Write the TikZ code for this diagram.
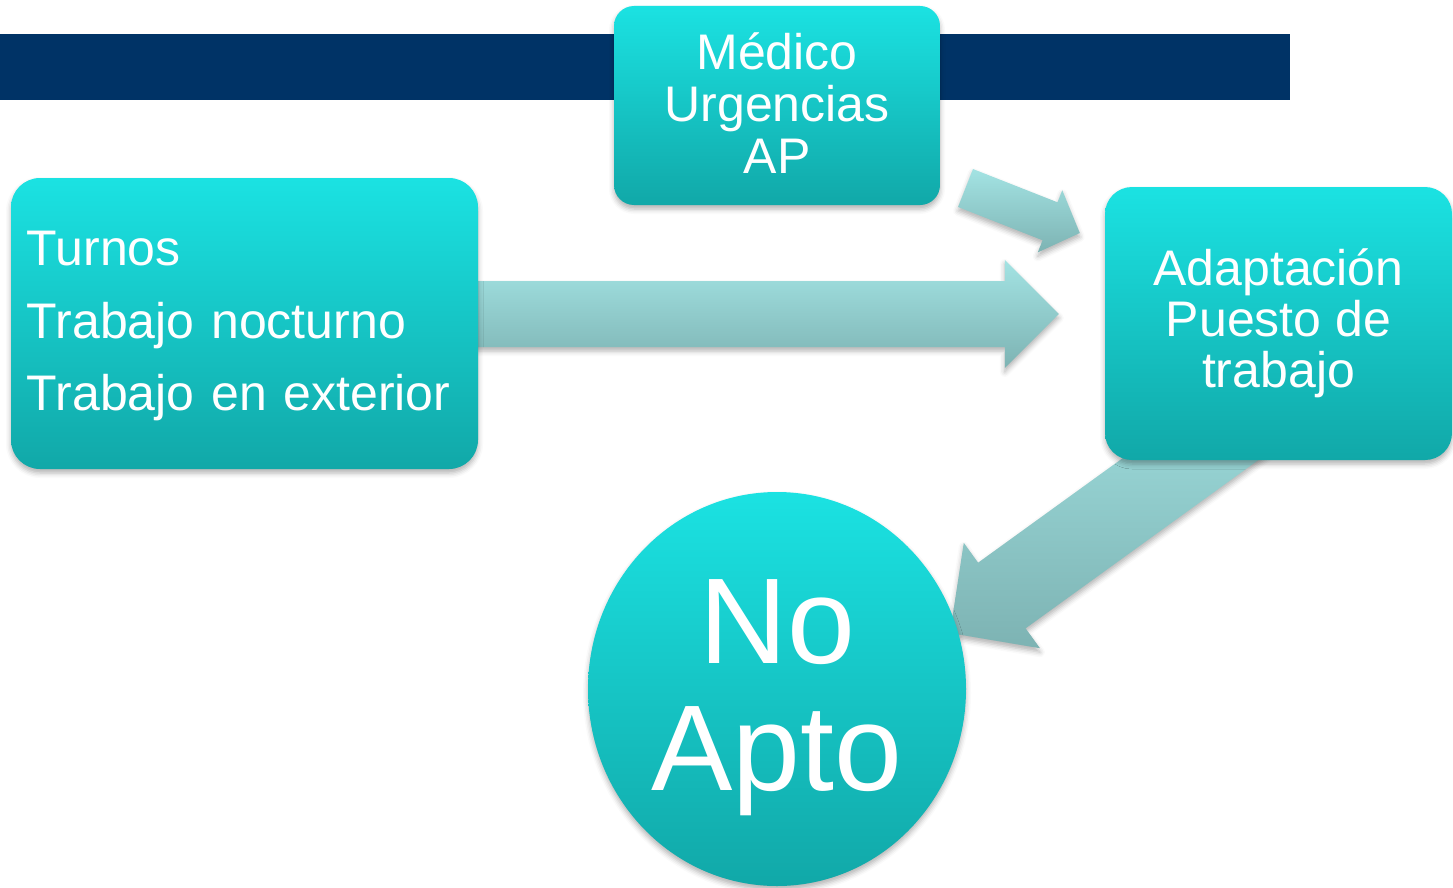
\documentclass[tikz,border=0pt]{standalone}
\usepackage{fontspec}
\setmainfont{Liberation Sans}
\usetikzlibrary{shapes.geometric,shadows.blur,calc}
\definecolor{barblue}{RGB}{0,51,102}
\definecolor{boxtop}{RGB}{27,226,226}
\definecolor{boxbot}{RGB}{17,168,168}
\definecolor{arrtop}{RGB}{163,227,227}
\definecolor{arrbot}{RGB}{125,179,179}
\pgfdeclarelayer{back}
\pgfdeclarelayer{mid}
\pgfsetlayers{back,mid,main}
\tikzset{
  softshadow/.style={blur shadow={shadow xshift=0pt, shadow yshift=-4pt, shadow opacity=30, shadow blur radius=5pt}},
  tealbox/.style={rectangle, rounded corners=#1, top color=boxtop, bottom color=boxbot,
    draw=none, text=white, inner sep=0pt, softshadow},
  tealoval/.style={ellipse, top color=boxtop, bottom color=boxbot, draw=none,
    text=white, inner sep=0pt, softshadow},
  blockarr/.style={top color=arrtop, bottom color=arrbot, draw=none, softshadow},
}
% #1 tail, #2 tip, #3 shaft half width, #4 head half width, #5 head length, #6 prefix
\newcommand\blkarrow[6]{%
  \coordinate (#6b) at ($(#2)!#5!(#1)$);
  \path[blockarr]
    ($(#1)!#3!90:(#2)$) -- ($(#6b)!#3!90:(#2)$) -- ($(#6b)!#4!90:(#2)$) -- (#2)
    -- ($(#6b)!#4!-90:(#2)$) -- ($(#6b)!#3!-90:(#2)$) -- ($(#1)!#3!-90:(#2)$) -- cycle;
}
\begin{document}
\begin{tikzpicture}[x=1pt,y=-1pt]
\useasboundingbox (0,0) rectangle (1453,888);

% boxes
\node[tealbox=29pt, minimum width=467pt, minimum height=291pt, text width=435pt,
      align=left, font=\fontsize{50}{72.5}\selectfont] (turnos) at (244.5,323.5)
      {\rule{0pt}{40pt}Turnos\\Trabajo nocturno\\Trabajo en exterior};
\node[tealbox=20pt, minimum width=326pt, minimum height=199pt,
      align=center, font=\fontsize{50}{52}\selectfont] (medico) at (777,105.5)
      {Médico\\Urgencias\\AP\rule[-4pt]{0pt}{4pt}};
\node[tealbox=27pt, minimum width=347pt, minimum height=273pt,
      align=center, font=\fontsize{50}{51}\selectfont] (adapt) at (1278.5,323.5)
      {Adaptación\\Puesto de\\trabajo};
\node[tealoval, minimum width=378pt, minimum height=394pt,
      align=center, font=\fontsize{122}{127}\selectfont] (noapto) at (777,689)
      {\rule{0pt}{102pt}No\\Apto};

% connectors (block arrows)
\begin{pgfonlayer}{mid}
  \coordinate (t1) at ($(turnos.east)+(-40,-9.5)$);
  \coordinate (h1) at ($(adapt.west)+(-46,-9.5)$);
  \coordinate (t2) at (965.5,188);
  \coordinate (h2) at ($(adapt.west)+(-25,-90.5)$);
  \coordinate (t3) at ($(adapt.center)+(14.5,61.5)$);
  \coordinate (h3) at (950,633);
  \blkarrow{t1}{h1}{33pt}{54pt}{54pt}{a1}
  \blkarrow{t2}{h2}{20.4pt}{33.4pt}{32pt}{a2}
  \blkarrow{t3}{h3}{40.5pt}{65pt}{64pt}{a3}
\end{pgfonlayer}

% title bar
\begin{pgfonlayer}{back}
  \fill[barblue] (0,34) rectangle (1290,100);
\end{pgfonlayer}
\end{tikzpicture}
\end{document}
